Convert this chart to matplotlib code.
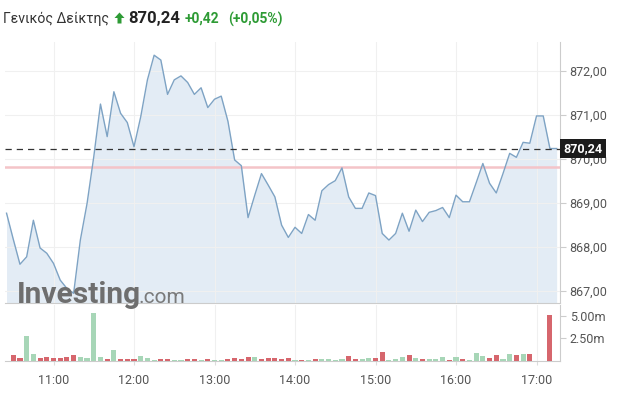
import numpy as np
import matplotlib
matplotlib.use("Agg")
import matplotlib.pyplot as plt
from matplotlib.patches import Polygon
import matplotlib.transforms as mtransforms

plt.rcParams['font.family'] = ['Roboto', 'DejaVu Sans']

# 5-minute closes, 10:25 -> 17:15
price = [868.77, 868.18, 867.61, 867.78, 868.61, 867.98, 867.86, 867.63, 867.25, 867.06,
         866.95, 868.16, 868.99, 870.05, 871.25, 870.51, 871.53, 871.04, 870.83, 870.28,
         870.96, 871.80, 872.36, 872.25, 871.47, 871.80, 871.89, 871.74, 871.47, 871.62,
         871.17, 871.36, 871.43, 870.86, 869.98, 869.85, 868.67, 869.18, 869.67, 869.41,
         869.14, 868.50, 868.22, 868.45, 868.31, 868.74, 868.61, 869.28, 869.42, 869.51,
         869.80, 869.14, 868.88, 868.88, 869.23, 869.17, 868.31, 868.16, 868.31, 868.77,
         868.36, 868.84, 868.58, 868.79, 868.83, 868.90, 868.67, 869.18, 869.03, 869.03,
         869.46, 869.90, 869.45, 869.23, 869.67, 870.13, 870.04, 870.38, 870.36, 870.98,
         870.98, 870.24, 870.24]
price_start = 25  # minutes after 10:00

# volume in millions, 10:30 -> 17:10
volume = [0.67, 0.30, 2.78, 0.74, 0.30, 0.41, 0.30, 0.30, 0.41, 0.63,
          0.41, 0.30, 5.30, 0.48, 0.22, 1.22, 0.19, 0.19, 0.19, 0.52,
          0.30, 0.07, 0.19, 0.19, 0.07, 0.07, 0.19, 0.19, 0.07, 0.19,
          0.15, 0.07, 0.19, 0.30, 0.22, 0.41, 0.41, 0.19, 0.30, 0.30,
          0.25, 0.30, 0.07, 0.07, 0.07, 0.19, 0.19, 0.19, 0.07, 0.19,
          0.52, 0.19, 0.22, 0.30, 0.30, 0.96, 0.07, 0.22, 0.41, 0.63,
          0.30, 0.19, 0.19, 0.19, 0.48, 0.07, 0.41, 0.19, 0.07, 0.85,
          0.52, 0.30, 0.63, 0.19, 0.74, 0.63, 0.74, 0.74, 0.0, 0.0,
          5.10]
# u = up bar (green), d = down bar (red)
direction = list("dduudddddd" "uuuududddu" "uudduuddud" "uuddddudd" "d"
                 "ddududuuuu" "dduudduuud" "uduuududuu" "udduududdd" "d")
vol_start = 30

prev_close = 869.82
last = 870.24
hours = [60, 120, 180, 240, 300, 360, 420]
hour_labels = ["11:00", "12:00", "13:00", "14:00", "15:00", "16:00", "17:00"]
price_ticks = [867, 868, 869, 870, 871, 872]

W, H = 642, 403
fig = plt.figure(figsize=(W / 100, H / 100), dpi=100)

def px(x, y):
    return x / W, 1 - y / H

xlim = (23.85, 437.5)
ax = fig.add_axes([5 / W, 1 - 303 / H, 555 / W, 261 / H])
axv = fig.add_axes([5 / W, 1 - 361 / H, 555 / W, 56 / H])

t = price_start + 5 * np.arange(len(price))
ymin = 866.73
ax.fill_between(t, price, ymin, color="#e3ecf5", lw=0, zorder=1)
ax.plot(t, price, color="#7ea3c4", lw=1.0, zorder=3)
ax.axhline(prev_close, color="#f4c4c8", lw=1.8, zorder=2)
ax.axhline(last, color="#333333", lw=0.9, dashes=(5, 4), zorder=4)
ax.set_xlim(*xlim)
ax.set_ylim(ymin, 872.66)
ax.set_xticks(hours)
ax.set_yticks(price_ticks)
ax.set_yticklabels([f"{v:.2f}".replace(".", ",") for v in price_ticks])
ax.yaxis.tick_right()
ax.tick_params(axis="y", length=4, color="#cccccc", labelcolor="#555555",
               labelsize=9, pad=3)
ax.tick_params(axis="x", length=0, labelbottom=False)
ax.grid(True, color="#f0f0f0", lw=0.8, zorder=0)
for s in ["top", "left"]:
    ax.spines[s].set_visible(False)
for s in ["right", "bottom"]:
    ax.spines[s].set_color("#cccccc")
    ax.spines[s].set_linewidth(0.8)

trans = mtransforms.blended_transform_factory(ax.transAxes, ax.transData)
ax.text(1.006, last, f"{last:.2f}".replace(".", ","), transform=trans,
        ha="left", va="center", color="white", fontsize=9, fontweight="bold",
        bbox=dict(fc="#1c1c1c", ec="none", boxstyle="square,pad=0.25"),
        clip_on=False, zorder=10)

tv = vol_start + 5 * np.arange(len(volume))
cols = ["#a7d6b7" if d == "u" else "#d6666d" for d in direction]
axv.bar(tv, volume, width=3.8, color=cols, zorder=3)
axv.set_xlim(*xlim)
axv.set_ylim(0, 6.22)
axv.set_yticks([2.5, 5.0])
axv.set_yticklabels(["2.50m", "5.00m"])
axv.yaxis.tick_right()
axv.set_xticks(hours)
axv.set_xticklabels(hour_labels)
axv.tick_params(axis="y", length=4, color="#cccccc", labelcolor="#555555",
                labelsize=9, pad=3)
axv.tick_params(axis="x", length=3, color="#dddddd", labelcolor="#555555",
                labelsize=9, pad=6)
axv.grid(True, axis="x", color="#f0f0f0", lw=0.8, zorder=0)
for s in ["top", "left"]:
    axv.spines[s].set_visible(False)
for s in ["right", "bottom"]:
    axv.spines[s].set_color("#cccccc")
    axv.spines[s].set_linewidth(0.8)

# header
fig.text(*px(3, 19), "Γενικός Δείκτης", fontsize=10.1, color="#333333",
         va="center", ha="left")
arrow = [(119.5, 12.5), (124.5, 18), (121.5, 18), (121.5, 23.5),
         (117.5, 23.5), (117.5, 18), (114.5, 18)]
fig.patches.append(Polygon([px(x, y) for x, y in arrow], closed=True,
                           transform=fig.transFigure, fc="#2e9b35", ec="none"))
fig.text(*px(128, 18.5), "870,24", fontsize=12, fontweight="bold",
         color="#222222", va="center", ha="left")
fig.text(*px(185, 19), "+0,42", fontsize=10, fontweight="bold",
         color="#2e9b35", va="center", ha="left")
fig.text(*px(228, 19), "(+0,05%)", fontsize=10, fontweight="bold",
         color="#2e9b35", va="center", ha="left")

# watermark
fig.text(*px(17, 303), "Investing", fontsize=21.5, fontweight="bold",
         color="#6e6e6e", va="baseline", ha="left", zorder=20)
fig.text(*px(138, 303), ".com", fontsize=15, color="#7a7a7a",
         va="baseline", ha="left", zorder=20)

fig.savefig("out.png", dpi=100)
